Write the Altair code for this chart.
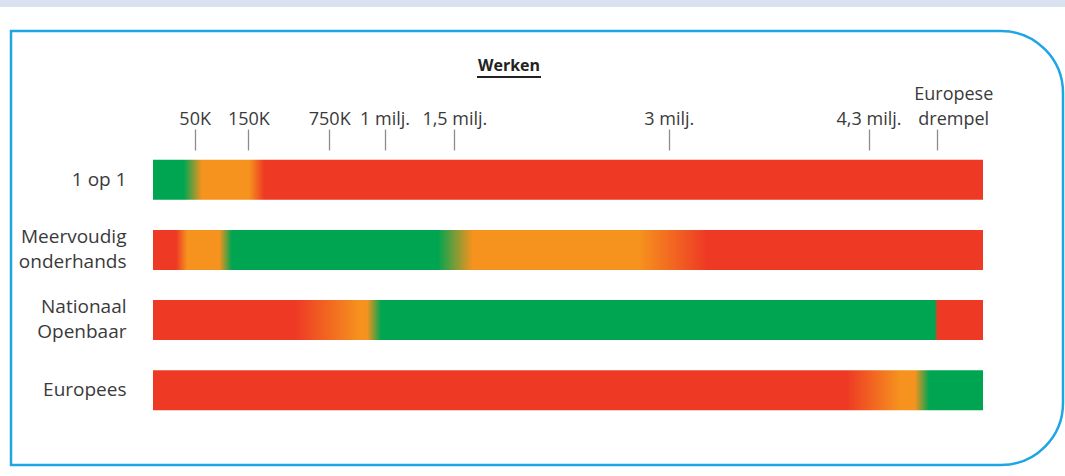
import json
import altair as alt
import pandas as pd

# ---------------- data ----------------
rows = ["1 op 1", "Meervoudig\nonderhands", "Nationaal\nOpenbaar", "Europees"]

# tick positions expressed as % of the bar length, with their labels
tick_positions = [5.02, 11.49, 21.23, 27.90, 36.31, 62.15, 86.21, 94.49]
tick_labels = ["50K", "150K", "750K", "1 milj.", "1,5 milj.", "3 milj.", "4,3 milj.", "Europese\ndrempel"]

# colour stops per row (fraction of bar length, colour class)
stops_1op1_pos = [0.0, 0.037, 0.059, 0.116, 0.134, 1.0]
stops_1op1_col = ["groen", "groen", "oranje", "oranje", "rood", "rood"]

stops_meervoudig_pos = [0.0, 0.028, 0.041, 0.080, 0.095, 0.343, 0.385, 0.586, 0.667, 1.0]
stops_meervoudig_col = ["rood", "rood", "oranje", "oranje", "groen", "groen", "oranje", "oranje", "rood", "rood"]

stops_nationaal_pos = [0.0, 0.172, 0.249, 0.258, 0.275, 0.942, 0.945, 1.0]
stops_nationaal_col = ["rood", "rood", "oranje", "oranje", "groen", "groen", "rood", "rood"]

stops_europees_pos = [0.0, 0.836, 0.900, 0.918, 0.935, 1.0]
stops_europees_col = ["rood", "rood", "oranje", "oranje", "groen", "groen"]

row_stops = [
    (stops_1op1_pos, stops_1op1_col),
    (stops_meervoudig_pos, stops_meervoudig_col),
    (stops_nationaal_pos, stops_nationaal_col),
    (stops_europees_pos, stops_europees_col),
]

palette = {"rood": "#EE3A24", "oranje": "#F6921E", "groen": "#00A551"}

FONT = "Open Sans"
TEXT = "#3a3a3a"

# ---------------- axes ----------------
def js_label(lbl):
    parts = lbl.split("\n")
    if len(parts) == 1:
        return json.dumps(lbl)
    return "[" + ",".join(json.dumps(p) for p in parts) + "]"

label_expr = ""
for p, l in zip(tick_positions, tick_labels):
    label_expr += f"datum.value == {p} ? {js_label(l)} : "
label_expr += "''"

multi_tick = f"datum.value == {tick_positions[-1]}"
x_axis = alt.Axis(
    orient="top", values=tick_positions, labelExpr=label_expr, title=None,
    domain=False, grid=False, tickSize=21, tickColor="#8c8c8c", tickWidth=1.3,
    labelFont=FONT, labelFontSize=18, labelColor=TEXT,
    labelPadding={"condition": {"test": multi_tick, "value": 26}, "value": 1},
    labelLineHeight=25, labelFlush=False, labelOverlap=False,
    labelOffset={"condition": {"test": multi_tick, "value": 16}, "value": 0},
)
x_enc = alt.X("start:Q", scale=alt.Scale(domain=[0, 100], nice=False, zero=False), axis=x_axis)

y_axis = alt.Axis(
    title=None, domain=False, ticks=False, labelPadding=27, labelFont=FONT,
    labelFontSize=19, labelColor=TEXT, labelLineHeight=25, labelLimit=0,
    labelExpr="split(datum.label, '\\n')",
    labelOffset={"condition": {"test": "indexof(datum.label, '\\n') >= 0", "value": -13}, "value": 0},
)
y_enc = alt.Y("rij:N", scale=alt.Scale(domain=rows, paddingInner=0.43, paddingOuter=0.14), axis=y_axis)

# ---------------- layers ----------------
one = pd.DataFrame({"a": [0]})

strip = alt.Chart(one).mark_rect(fill="#DAE2F1").encode(
    x=alt.value(-153), x2=alt.value(912), y=alt.value(-150), y2=alt.value(-143)
)
border = alt.Chart(one).mark_rect(
    fillOpacity=0, stroke="#1EA5E6", strokeWidth=2.5,
    cornerRadiusTopRight=62, cornerRadiusBottomRight=62,
).encode(x=alt.value(-142), x2=alt.value(910), y=alt.value(-119), y2=alt.value(315))

title = alt.Chart(pd.DataFrame({"t": ["Werken"]})).mark_text(
    font=FONT, fontSize=16, fontWeight="bold", color="#222222", align="center", baseline="alphabetic"
).encode(text="t:N", x=alt.value(356), y=alt.value(-79))
underline = alt.Chart(one).mark_rule(color="#222222", strokeWidth=2).encode(
    x=alt.value(324), x2=alt.value(388), y=alt.value(-73)
)

bars = []
for row, (pos, cols) in zip(rows, row_stops):
    df = pd.DataFrame({"rij": [row], "start": [0], "eind": [100]})
    grad = alt.LinearGradient(
        gradient="linear", x1=0, x2=1, y1=0, y2=0,
        stops=[alt.GradientStop(offset=p, color=palette[c]) for p, c in zip(pos, cols)],
    )
    bars.append(
        alt.Chart(df).mark_bar(color=grad).encode(x=x_enc, x2="eind:Q", y=y_enc)
    )

chart = alt.layer(strip, border, *bars, title, underline).properties(
    width=830, height=270,
    padding={"left": 153, "top": 150, "right": 82, "bottom": 56},
    autosize="none", background="white",
).configure_view(stroke=None)

chart.save("out.html", embed_options={"renderer": "svg", "actions": False})
